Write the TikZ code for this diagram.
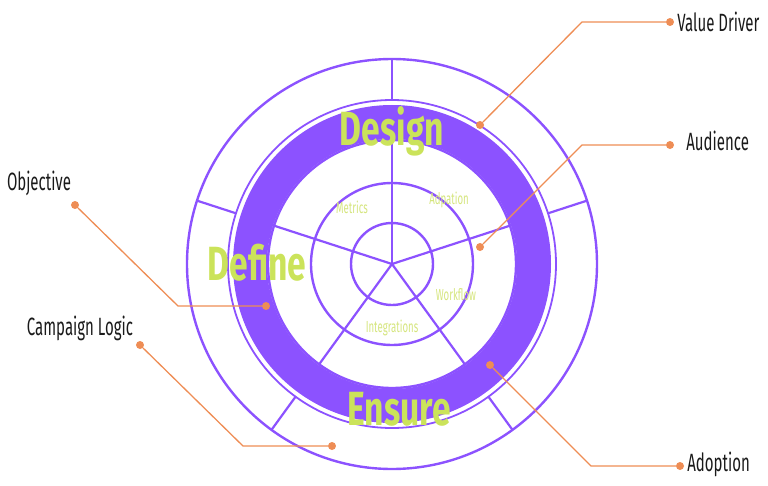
\documentclass[tikz,border=0pt]{standalone}
\usepackage{fontspec}
\usepackage{xcolor}
\usepackage{tikz}
\usetikzlibrary{positioning,calc}
\newfontfamily\headfont[FakeStretch=0.70]{Fira Sans}
\newfontfamily\labfont[FakeStretch=0.60]{Fira Sans}
\definecolor{wheelPurple}{HTML}{8C52FF}
\definecolor{wheelLime}{HTML}{CBE35A}
\definecolor{softLime}{HTML}{D5E57E}
\definecolor{calloutOrange}{HTML}{EE8D55}
\definecolor{labelInk}{HTML}{1A1A1A}

\begin{document}
\begin{tikzpicture}[
    x=1pt,y=1pt,
    ring/.style={draw=wheelPurple,line width=2.4pt},
    thinring/.style={draw=wheelPurple,line width=1.8pt},
    spoke/.style={draw=wheelPurple,line width=2.2pt},
    phase/.style={text=wheelLime,inner sep=0pt,anchor=base,
                  font=\headfont\bfseries\fontsize{48}{48}\selectfont},
    facet/.style={text=softLime,inner sep=0pt,anchor=base,
                  font=\labfont\fontsize{16}{16}\selectfont},
    dot/.style={circle,fill=calloutOrange,inner sep=0pt,minimum size=8pt},
    callout/.style={draw=calloutOrange,line width=1.3pt},
    lab/.style={text=labelInk,inner sep=0pt,
                font=\labfont\fontsize{25}{25}\selectfont}
  ]
  \useasboundingbox (-392,-221) rectangle (376,264);
  \coordinate (c) at (0,0);
  %% Thick band and rings
  \draw[wheelPurple,line width=34pt] (c) circle[radius=142pt];
  \draw[ring]     (c) circle[radius=205pt];
  \draw[thinring] (c) circle[radius=164pt];
  \draw[ring]     (c) circle[radius=124pt];
  \draw[ring]     (c) circle[radius=81pt];
  \draw[ring]     (c) circle[radius=41pt];
  %% Spokes (inner) and segments (outer ring)
  \foreach \a in {18,90,162,234,306} {
    \draw[spoke] (c) -- (\a:124pt);
    \draw[spoke] (\a:164pt) -- (\a:205pt);
  }
  %% Phase names on the band
  \node[phase] (design) at (0,119)    {Design};
  \node[phase] (define) at (-135,-16) {Define};
  \node[phase] (ensure) at (7,-161)   {Ensure};
  %% Facets inside the middle ring
  \node[facet] (metrics)  at (-40,51)   {Metrics};
  \node[facet] (adpation) at (57,60)    {Adpation};
  \node[facet] (workflow) at (64,-36)   {Workflow};
  \node[facet] (integr)   at (0,-68)    {Integrations};
  %% Callouts, right side
  \node[dot] (vdIn)  at (88,139)  {};
  \node[dot] (vdOut) at (278,242) {};
  \draw[callout] (vdIn) -- ++(102,103) -- (vdOut);
  \node[lab,right=3pt of vdOut] (vdLab) {Value Driver};
  \node[dot] (auIn)  at (88,17)   {};
  \node[dot] (auOut) at (278,119) {};
  \draw[callout] (auIn) -- ++(102,102) -- (auOut);
  \node[lab,right=12pt of auOut,yshift=4pt] (auLab) {Audience};
  \node[dot] (adIn)  at (98,-101)  {};
  \node[dot] (adOut) at (288,-202) {};
  \draw[callout] (adIn) -- ++(101,-101) -- (adOut);
  \node[lab,right=3pt of adOut,yshift=2pt] (adLab) {Adoption};
  %% Callouts, left side
  \node[dot] (obIn)  at (-126,-42) {};
  \node[dot] (obOut) at (-317,59)  {};
  \draw[callout] (obIn) -- ++(-88,0) -- (obOut);
  \node[lab] (obLab) at (-353,81) {Objective};
  \node[dot] (clIn)  at (-60,-182) {};
  \node[dot] (clOut) at (-252,-81) {};
  \draw[callout] (clIn) -- ++(-89,0) -- (clOut);
  \node[lab] (clLab) at (-312,-64) {Campaign Logic};
\end{tikzpicture}
\end{document}
